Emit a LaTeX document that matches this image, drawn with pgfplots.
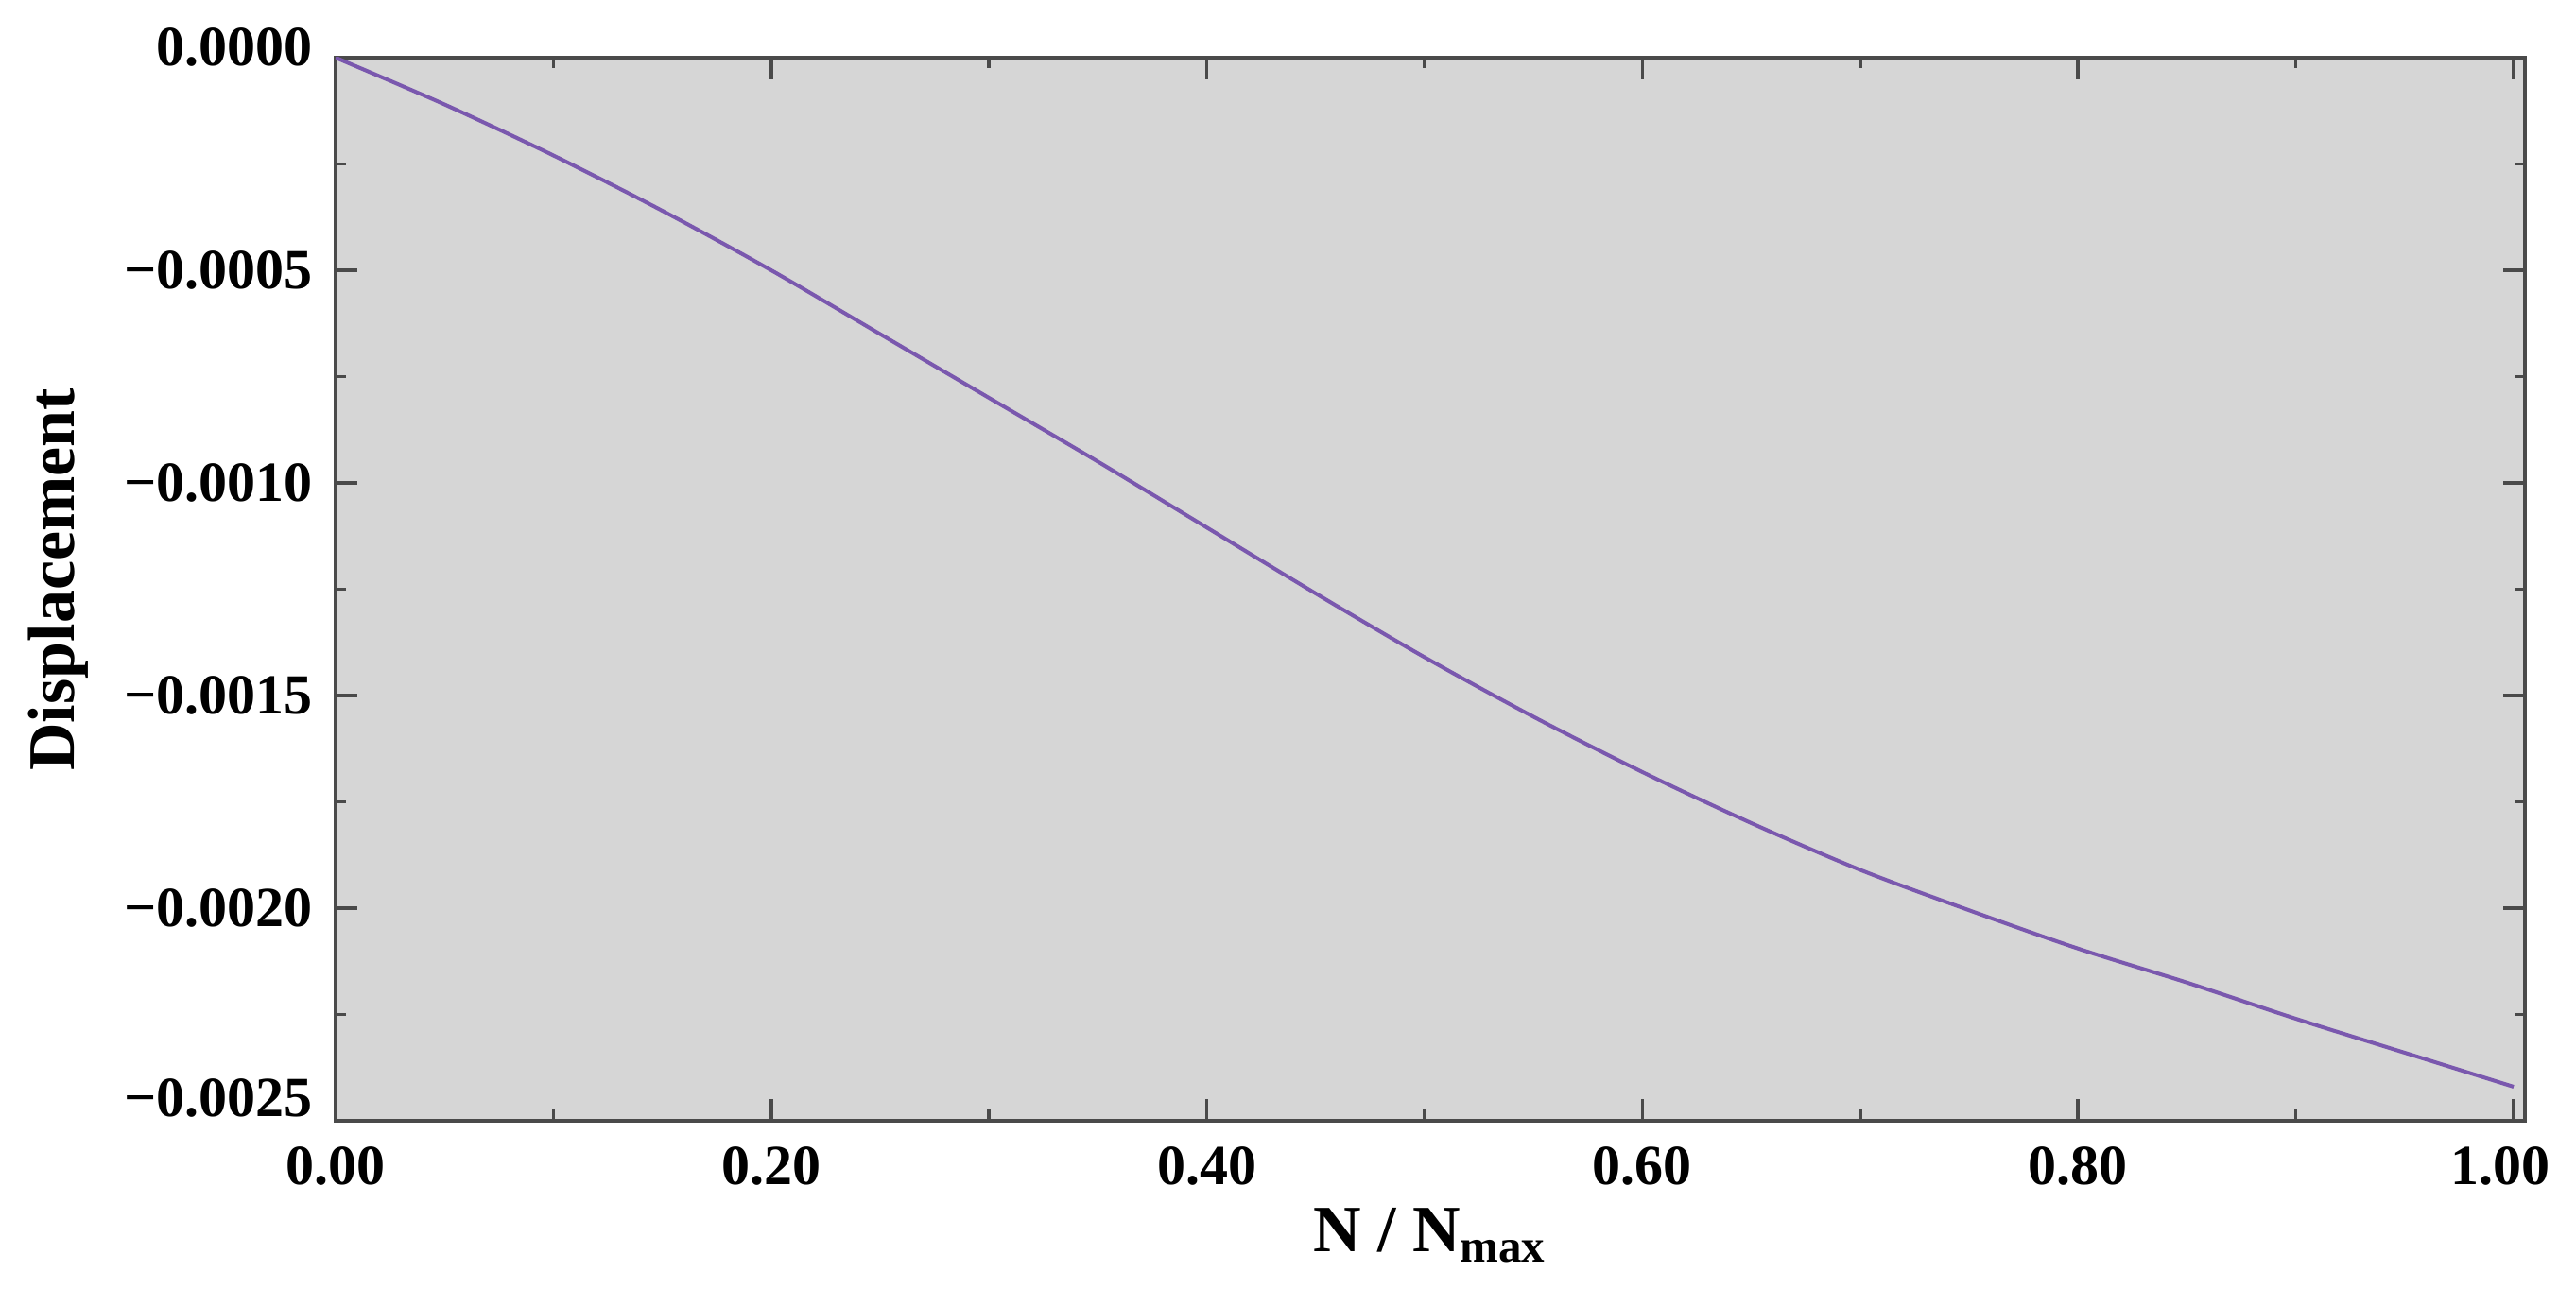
\documentclass[border=0pt]{standalone}
\usepackage{fontspec}
\setmainfont{Liberation Serif}
\usepackage{pgfplots}
\pgfplotsset{compat=1.18}
\definecolor{bgray}{HTML}{D6D6D6}
\definecolor{frame}{HTML}{4A4A4A}
\definecolor{curve}{HTML}{7A58AE}
\begin{document}
\begin{tikzpicture}
\begin{axis}[
  scale only axis,
  width=463.2pt, height=225pt,
  xmin=0, xmax=1.0052,
  ymin=-0.0025, ymax=0,
  axis background/.style={fill=bgray},
  axis line style={frame, line width=0.8pt},
  every tick/.style={frame, line width=0.7pt},
  major tick length=4.6pt, minor tick length=2.3pt,
  tick align=inside,
  xtick={0,0.2,0.4,0.6,0.8,1.0},
  xticklabels={0.00,0.20,0.40,0.60,0.80,\hspace*{-5.6pt}1.00},
  minor xtick={0.1,0.3,0.5,0.7,0.9},
  ytick={0,-0.0005,-0.0010,-0.0015,-0.0020,-0.0025},
  yticklabels={\raisebox{4.4pt}{0.0000},−0.0005,−0.0010,−0.0015,−0.0020,\raisebox{9.6pt}{−0.0025}},
  minor ytick={-0.00025,-0.00075,-0.00125,-0.00175,-0.00225},
  scaled y ticks=false, scaled x ticks=false,
  tick label style={font=\fontsize{12}{14}\selectfont\bfseries},
  xticklabel style={anchor=base, yshift=-13.4pt},
  yticklabel style={xshift=-1.4pt},
  xlabel={N / N\textsubscript{max}},
  ylabel={Displacement},
  label style={font=\fontsize{14}{16}\selectfont\bfseries},
  xlabel style={at={(axis description cs:0.5,0)}, anchor=base, yshift=-27.8pt},
  ylabel style={at={(axis description cs:-0.1265,0.509)}, anchor=center},
  clip=true,
]
\addplot[curve, line width=0.8pt, smooth] coordinates {
(0.00,0.00000)
(0.05,-0.000110)
(0.10,-0.000230)
(0.15,-0.000360)
(0.20,-0.000500)
(0.25,-0.000650)
(0.30,-0.000800)
(0.35,-0.000950)
(0.40,-0.001105)
(0.45,-0.001260)
(0.50,-0.001410)
(0.55,-0.001550)
(0.60,-0.001680)
(0.65,-0.001800)
(0.70,-0.001910)
(0.75,-0.002005)
(0.80,-0.002095)
(0.85,-0.002175)
(0.90,-0.002260)
(0.95,-0.002340)
(1.00,-0.002420)
};
\end{axis}
\pgfresetboundingbox
\path (-71pt,-35.4pt) rectangle (474pt,237.2pt);
\end{tikzpicture}
\end{document}
